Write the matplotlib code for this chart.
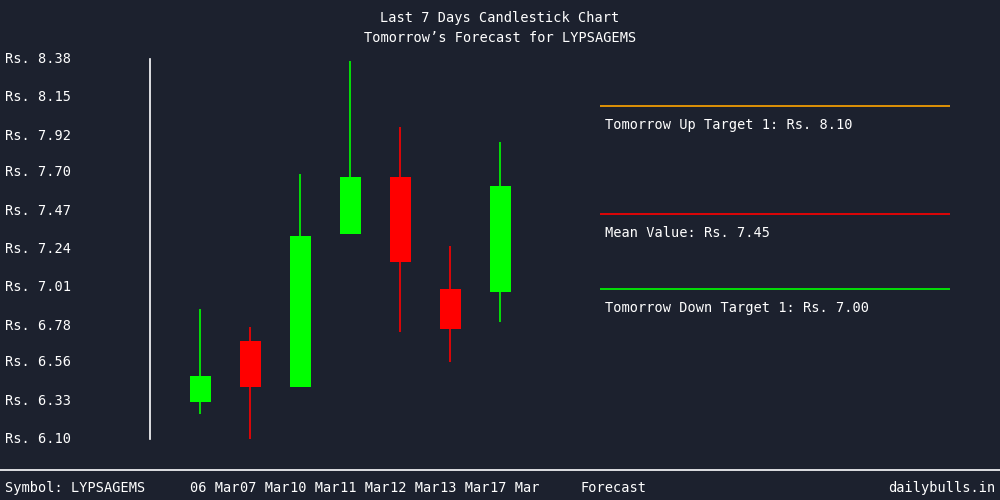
import numpy as np
import matplotlib.pyplot as plt
import matplotlib.transforms as mtransforms

plt.rcParams['font.family'] = ['DejaVu Sans Mono', 'DejaVu Sans']

bg = "#1c212e"

# last 7 days of prices
dates = ["06 Mar", "07 Mar", "10 Mar", "11 Mar", "12 Mar", "13 Mar", "17 Mar"]
opens = [6.32, 6.69, 6.41, 7.33, 7.67, 7.00, 6.98]
highs = [6.88, 6.77, 7.69, 8.37, 7.97, 7.26, 7.88]
lows = [6.25, 6.08, 6.41, 7.33, 6.74, 6.56, 6.80]
closes = [6.48, 6.41, 7.32, 7.67, 7.16, 6.76, 7.62]

# forecast levels
fc_labels = ["Tomorrow Up Target 1: Rs. 8.10", "Mean Value: Rs. 7.45",
             "Tomorrow Down Target 1: Rs. 7.00"]
fc_values = [8.10, 7.45, 7.00]
fc_colors = ["#ffa500", "#ff0000", "#00ff00"]

yticks = [6.10, 6.33, 6.56, 6.78, 7.01, 7.24, 7.47, 7.70, 7.92, 8.15, 8.38]

fig = plt.figure(figsize=(10, 5), dpi=100, facecolor=bg)
ax = fig.add_axes([0.15, 0.122, 0.8, 0.76])
ax.set_facecolor(bg)
for s in ax.spines.values():
    s.set_visible(False)
ax.set_xlim(-1, 15)
ax.set_ylim(6.10, 8.38)
ax.set_xticks([])
ax.set_yticks([])

# left axis line
ax.plot([-1, -1], [6.10, 8.38], color="white", lw=1.2, clip_on=False)

x = np.arange(len(dates))
for i in x:
    col = "#00ff00" if closes[i] >= opens[i] else "#ff0000"
    ax.vlines(i, lows[i], highs[i], color=col, lw=1.2)
    lo = min(opens[i], closes[i])
    ax.bar(i, abs(closes[i] - opens[i]), bottom=lo, width=0.42, color=col)

for lab, v, c in zip(fc_labels, fc_values, fc_colors):
    ax.hlines(v, 8, 15, color=c, lw=1.2)
    ax.annotate(lab, xy=(8, v), xytext=(3.6, -14), textcoords="offset points",
                va="center", ha="left", color="white", fontsize=9.8)

ytr = ax.get_yaxis_transform()
for t in yticks:
    ax.text(-0.18125, t, "Rs. %.2f" % t, transform=ytr, ha="left",
            va="center", color="white", fontsize=9.8)

xtr = mtransforms.blended_transform_factory(ax.transData, fig.transFigure)
for i, d in zip(x, dates):
    ax.text(i - 0.2, 0.024, d, transform=xtr, ha="left", va="center",
            color="white", fontsize=9.8)

fig.text(0.5, 0.964, "Last 7 Days Candlestick Chart", ha="center",
         va="center", color="white", fontsize=9.8)
fig.text(0.5, 0.924, "Tomorrow\u2019s Forecast for LYPSAGEMS", ha="center",
         va="center", color="white", fontsize=9.8)

fig.add_artist(plt.Line2D([0, 1], [0.06, 0.06], color="white", lw=1.2))
fig.text(0.005, 0.024, "Symbol: LYPSAGEMS", ha="left", va="center",
         color="white", fontsize=9.8)
fig.text(0.58, 0.024, "Forecast", ha="left", va="center",
         color="white", fontsize=9.8)
fig.text(0.995, 0.024, "dailybulls.in", ha="right", va="center",
         color="white", fontsize=9.8)

fig.savefig("out.png", dpi=100, facecolor=bg)
